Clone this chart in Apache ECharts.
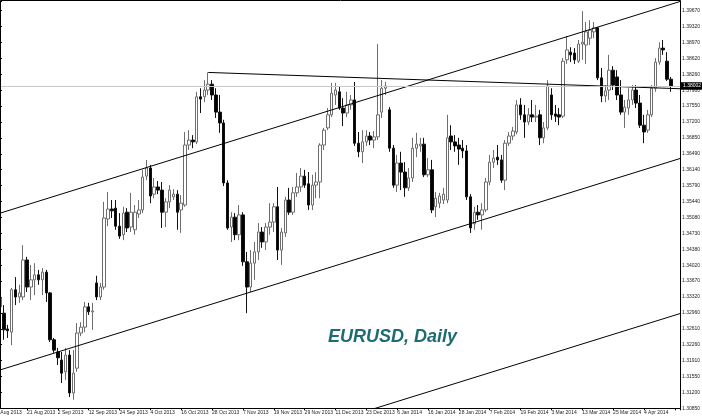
<!DOCTYPE html>
<html><head><meta charset="utf-8">
<script src="https://cdn.jsdelivr.net/npm/echarts@6/dist/echarts.min.js"></script>
<style>html,body{margin:0;padding:0;background:#fff}#c{width:702px;height:420px}</style>
</head><body><div id="c"></div>
<script>
// calendar: first (partially hidden) label date and market holidays
const startDate = [2013, 7, 9];
const holidays = ['2013-12-25', '2014-01-01'];

// daily OHLC, one entry per trading day from 12 Aug 2013 to 15 Apr 2014
const opens = [
1.3310,1.3296,1.3261,1.3254,1.3348,1.3332,1.3332,1.3414,1.3354,1.3370,
1.3381,1.3370,1.3387,1.3341,1.3237,1.3210,1.3192,1.3166,1.3203,1.3119,
1.3174,1.3252,1.3265,1.3310,1.3299,1.3363,1.3332,1.3354,1.3505,1.3527,
1.3529,1.3489,1.3470,1.3520,1.3487,1.3481,1.3516,1.3525,1.3600,1.3618,
1.3560,1.3576,1.3569,1.3520,1.3543,1.3554,1.3560,1.3525,1.3536,1.3669,
1.3680,1.3676,1.3776,1.3776,1.3791,1.3804,1.3780,1.3742,1.3718,1.3585,
1.3487,1.3509,1.3470,1.3514,1.3410,1.3354,1.3407,1.3432,1.3476,1.3454,
1.3487,1.3498,1.3532,1.3436,1.3474,1.3547,1.3520,1.3563,1.3576,1.3600,
1.3583,1.3536,1.3580,1.3587,1.3669,1.3707,1.3736,1.3780,1.3787,1.3751,
1.3740,1.3758,1.3769,1.3673,1.3654,1.3676,1.3689,1.3680,1.3687,1.3742,
1.3795,1.3747,1.3662,1.3580,1.3629,1.3609,1.3574,1.3596,1.3662,1.3667,
1.3671,1.3603,1.3614,1.3532,1.3540,1.3547,1.3547,1.3689,1.3676,1.3669,
1.3662,1.3656,1.3554,1.3494,1.3520,1.3514,1.3525,1.3587,1.3631,1.3642,
1.3636,1.3591,1.3673,1.3689,1.3698,1.3758,1.3736,1.3720,1.3736,1.3731,
1.3736,1.3685,1.3707,1.3780,1.3738,1.3736,1.3733,1.3858,1.3875,1.3873,
1.3855,1.3893,1.3891,1.3906,1.3920,1.3929,1.3818,1.3778,1.3791,1.3835,
1.3820,1.3780,1.3742,1.3751,1.3769,1.3791,1.3762,1.3713,1.3702,1.3736,
1.3795,1.3853,1.3884,1.3855,1.3815];
const closes = [
1.3330,1.3259,1.3257,1.3348,1.3332,1.3341,1.3414,1.3354,1.3370,1.3381,
1.3370,1.3387,1.3341,1.3237,1.3214,1.3197,1.3163,1.3203,1.3119,1.3163,
1.3252,1.3265,1.3310,1.3299,1.3301,1.3332,1.3354,1.3507,1.3527,1.3523,
1.3489,1.3467,1.3518,1.3485,1.3520,1.3520,1.3525,1.3598,1.3618,1.3556,
1.3576,1.3569,1.3520,1.3543,1.3569,1.3560,1.3520,1.3540,1.3669,1.3680,
1.3676,1.3776,1.3771,1.3791,1.3804,1.3780,1.3742,1.3718,1.3585,1.3485,
1.3509,1.3470,1.3514,1.3410,1.3354,1.3407,1.3432,1.3476,1.3454,1.3487,
1.3498,1.3532,1.3436,1.3476,1.3547,1.3520,1.3563,1.3576,1.3600,1.3580,
1.3536,1.3580,1.3587,1.3669,1.3702,1.3736,1.3784,1.3791,1.3751,1.3740,
1.3758,1.3769,1.3673,1.3654,1.3676,1.3689,1.3680,1.3687,1.3736,1.3795,
1.3800,1.3662,1.3580,1.3629,1.3609,1.3574,1.3596,1.3662,1.3671,1.3671,
1.3603,1.3614,1.3525,1.3551,1.3556,1.3560,1.3685,1.3676,1.3667,1.3660,
1.3656,1.3554,1.3485,1.3520,1.3514,1.3525,1.3587,1.3631,1.3640,1.3636,
1.3591,1.3673,1.3689,1.3700,1.3758,1.3736,1.3720,1.3736,1.3731,1.3733,
1.3685,1.3707,1.3800,1.3736,1.3733,1.3731,1.3855,1.3880,1.3869,1.3858,
1.3893,1.3897,1.3920,1.3924,1.3929,1.3818,1.3778,1.3789,1.3835,1.3802,
1.3780,1.3742,1.3753,1.3769,1.3791,1.3762,1.3713,1.3698,1.3736,1.3795,
1.3853,1.3884,1.3880,1.3815,1.38002];
const lows = [
1.3290,1.3237,1.3241,1.3225,1.3314,1.3319,1.3325,1.3343,1.3325,1.3336,
1.3359,1.3336,1.3321,1.3232,1.3208,1.3181,1.3141,1.3148,1.3110,1.3104,
1.3166,1.3245,1.3254,1.3292,1.3259,1.3325,1.3325,1.3348,1.3489,1.3507,
1.3481,1.3461,1.3458,1.3476,1.3476,1.3470,1.3507,1.3518,1.3591,1.3540,
1.3551,1.3560,1.3485,1.3487,1.3529,1.3547,1.3481,1.3474,1.3532,1.3658,
1.3662,1.3671,1.3740,1.3764,1.3780,1.3769,1.3729,1.3696,1.3578,1.3481,
1.3454,1.3458,1.3458,1.3401,1.3296,1.3343,1.3370,1.3414,1.3441,1.3436,
1.3470,1.3476,1.3414,1.3403,1.3465,1.3514,1.3514,1.3554,1.3565,1.3574,
1.3525,1.3525,1.3551,1.3551,1.3658,1.3702,1.3731,1.3758,1.3747,1.3711,
1.3731,1.3747,1.3667,1.3642,1.3629,1.3667,1.3669,1.3662,1.3680,1.3729,
1.3780,1.3654,1.3574,1.3565,1.3569,1.3554,1.3567,1.3587,1.3642,1.3654,
1.3598,1.3598,1.3518,1.3509,1.3529,1.3538,1.3540,1.3658,1.3654,1.3625,
1.3640,1.3547,1.3474,1.3481,1.3503,1.3481,1.3520,1.3580,1.3618,1.3625,
1.3585,1.3569,1.3667,1.3680,1.3693,1.3725,1.3685,1.3713,1.3720,1.3720,
1.3669,1.3673,1.3702,1.3725,1.3720,1.3713,1.3729,1.3849,1.3853,1.3849,
1.3851,1.3858,1.3849,1.3891,1.3906,1.3813,1.3764,1.3764,1.3769,1.3791,
1.3769,1.3736,1.3707,1.3736,1.3758,1.3751,1.3707,1.3673,1.3696,1.3731,
1.3787,1.3847,1.3869,1.3811,1.3787];
const highs = [
1.3340,1.3314,1.3270,1.3352,1.3376,1.3359,1.3447,1.3421,1.3403,1.3407,
1.3392,1.3396,1.3392,1.3343,1.3241,1.3219,1.3210,1.3219,1.3214,1.3214,
1.3274,1.3276,1.3321,1.3319,1.3319,1.3379,1.3363,1.3543,1.3565,1.3547,
1.3547,1.3518,1.3532,1.3529,1.3563,1.3536,1.3547,1.3614,1.3636,1.3625,
1.3596,1.3589,1.3587,1.3551,1.3580,1.3571,1.3569,1.3558,1.3698,1.3702,
1.3691,1.3787,1.3795,1.3813,1.3830,1.3813,1.3795,1.3780,1.3725,1.3591,
1.3520,1.3518,1.3536,1.3520,1.3432,1.3436,1.3454,1.3496,1.3487,1.3496,
1.3540,1.3540,1.3576,1.3485,1.3554,1.3574,1.3576,1.3607,1.3618,1.3614,
1.3609,1.3603,1.3609,1.3673,1.3707,1.3751,1.3807,1.3807,1.3798,1.3773,
1.3787,1.3780,1.3809,1.3698,1.3702,1.3702,1.3698,1.3700,1.3893,1.3813,
1.3809,1.3753,1.3669,1.3647,1.3654,1.3631,1.3618,1.3685,1.3696,1.3685,
1.3685,1.3640,1.3636,1.3565,1.3563,1.3574,1.3736,1.3713,1.3691,1.3685,
1.3680,1.3669,1.3560,1.3532,1.3536,1.3540,1.3596,1.3647,1.3658,1.3669,
1.3647,1.3680,1.3698,1.3709,1.3769,1.3773,1.3758,1.3751,1.3769,1.3758,
1.3747,1.3720,1.3813,1.3795,1.3758,1.3751,1.3862,1.3911,1.3886,1.3884,
1.3902,1.3966,1.3942,1.3946,1.3942,1.3931,1.3840,1.3802,1.3869,1.3844,
1.3835,1.3813,1.3769,1.3795,1.3802,1.3802,1.3780,1.3736,1.3747,1.3802,
1.3862,1.3897,1.3902,1.3875,1.3820];

// right-hand price scale labels
const priceTicks = [1.30850,1.31200,1.31550,1.31910,1.32260,1.32610,1.32960,1.33320,1.33670,
  1.34020,1.34380,1.34730,1.35080,1.35440,1.35790,1.36140,1.36490,1.36850,1.37200,1.37550,
  1.37900,1.38260,1.38620,1.38970,1.39320,1.39670];
const priceTop = 1.39885;
const lastPrice = 1.38002;

// drawn trend lines: [bar index, price] end points
const upperChannel = [[-2, 1.35125], [180, 1.39971]];
const lowerChannel = [[-2, 1.31647], [180, 1.36488]];
const outerChannel = [[90, 1.30655], [180, 1.33048]];
const peakLine = [[54, 1.3830], [180, 1.37928]];

const title = 'EURUSD, Daily';

// ---- build ----
const MONTHS = ['Jan','Feb','Mar','Apr','May','Jun','Jul','Aug','Sep','Oct','Nov','Dec'];
const dates = [];
{
  const d = new Date(Date.UTC(startDate[0], startDate[1], startDate[2]));
  while (dates.length < 182) {
    const dow = d.getUTCDay();
    const iso = d.toISOString().slice(0, 10);
    if (dow !== 0 && dow !== 6 && !holidays.includes(iso)) {
      dates.push(d.getUTCDate() + ' ' + MONTHS[d.getUTCMonth()] + ' ' + d.getUTCFullYear());
    }
    d.setUTCDate(d.getUTCDate() + 1);
  }
}
const candles = opens.map((o, i) => [i, o, closes[i], lows[i], highs[i]]);

const barPx = 3.856;
const chart = echarts.init(document.getElementById('c'), null, {renderer: 'canvas'});
const lineSeries = (data) => ({
  type: 'line', data, symbol: 'none', silent: true, clip: true, z: 4,
  lineStyle: {color: '#000', width: 1}
});
chart.setOption({
  animation: false,
  backgroundColor: '#fff',
  grid: {left: -barPx, right: 22, top: 1, bottom: 11.7, containLabel: false, outerBoundsMode: 'none'},
  xAxis: {
    type: 'value', min: -1, max: 176.35, interval: 8,
    axisLine: {show: true, lineStyle: {color: '#000', width: 1}},
    axisTick: {show: true, length: 2, lineStyle: {color: '#000'}},
    splitLine: {show: false},
    axisLabel: {
      fontSize: 5, color: '#222', fontFamily: 'Liberation Sans', align: 'left', margin: 2,
      formatter: v => (Number.isInteger(v) && v >= -1 && v <= opens.length - 1) ? dates[v + 1] : ''
    }
  },
  yAxis: {
    type: 'value', position: 'right', scale: true,
    min: priceTicks[0], max: priceTop,
    interval: (priceTicks[priceTicks.length - 1] - priceTicks[0]) / (priceTicks.length - 1),
    axisLine: {show: true, lineStyle: {color: '#000', width: 1}},
    axisTick: {show: true, length: 2, lineStyle: {color: '#000'}},
    splitLine: {show: false},
    axisLabel: {
      fontSize: 5, color: '#222', fontFamily: 'Liberation Sans', margin: 2,
      formatter: v => {
        for (const t of priceTicks) if (Math.abs(t - v) < 0.0004) return t.toFixed(5);
        return '';
      }
    }
  },
  series: [
    {
      type: 'candlestick', data: candles, barWidth: 3, clip: true, z: 3,
      itemStyle: {color: '#fff', color0: '#000', borderColor: '#6e6e6e', borderColor0: '#111', borderWidth: 1},
      markLine: {
        silent: true, symbol: ['none', 'none'], animation: false,
        lineStyle: {color: '#c8c8c8', width: 1, type: 'solid'},
        label: {
          show: true, position: 'end', distance: 1,
          formatter: () => lastPrice.toFixed(5),
          color: '#fff', backgroundColor: '#000', fontSize: 5,
          fontFamily: 'Liberation Sans', padding: [1.5, 2, 1, 2]
        },
        data: [{yAxis: lastPrice}]
      }
    },
    lineSeries(upperChannel),
    lineSeries(lowerChannel),
    lineSeries(outerChannel),
    lineSeries(peakLine)
  ],
  graphic: [
    {type: 'rect', silent: true, z: 10,
     shape: {x: 0.5, y: 0.5, width: 680, height: 408},
     style: {fill: null, stroke: '#000', lineWidth: 1}},
    {type: 'text', silent: true, z: 10, left: 328, top: 328,
     style: {text: title, font: 'italic bold 18px "Liberation Sans", Arial, sans-serif', fill: '#1d6b73'}}
  ]
});
</script>
</body></html>
